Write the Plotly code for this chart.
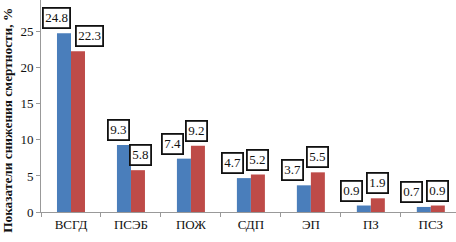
import plotly.graph_objects as go

# ---- data ----
categories = ["ВСГД", "ПСЭБ", "ПОЖ", "СДП", "ЭП", "ПЗ", "ПСЗ"]
series_blue = [24.8, 9.3, 7.4, 4.7, 3.7, 0.9, 0.7]
series_red = [22.3, 5.8, 9.2, 5.2, 5.5, 1.9, 0.9]
y_ticks = [0, 5, 10, 15, 20, 25]
y_title = "Показатели снижения смертности, %"

# ---- style ----
BLUE = "#4A7EBB"
RED = "#BE4B48"
FONT = "Liberation Serif"
# pixel nudges for the boxed value labels (blue, red) per category
label_dx_blue = [-14, -12, -18, -18, -18, -19, -19]
label_dx_red = [19, 10, 6, 7, 7, 7, 7]

fig = go.Figure()
fig.add_trace(go.Bar(x=categories, y=series_blue, marker=dict(color=BLUE, line=dict(width=0)),
                     showlegend=False, hoverinfo="skip"))
fig.add_trace(go.Bar(x=categories, y=series_red, marker=dict(color=RED, line=dict(width=0)),
                     showlegend=False, hoverinfo="skip"))

annotations = []
for i, c in enumerate(categories):
    for vals, dx in ((series_blue, label_dx_blue[i]), (series_red, label_dx_red[i])):
        annotations.append(dict(
            x=c, y=vals[i], xref="x", yref="y", text=f"{vals[i]:.1f}",
            showarrow=False, xanchor="center", yanchor="bottom",
            xshift=dx, yshift=4,
            font=dict(family=FONT, size=13, color="#111"),
            bgcolor="white", bordercolor="#111", borderwidth=1.8, borderpad=1.5,
        ))

annotations.append(dict(
    x=0, y=0.43, xref="paper", yref="paper", text=f"<b>{y_title}</b>",
    textangle=-90, showarrow=False, xanchor="center", yanchor="middle",
    xshift=-33, font=dict(family=FONT, size=13.3, color="#111"),
))

fig.update_layout(
    width=456, height=242,
    margin=dict(l=41, r=0, t=0, b=30, autoexpand=False),
    paper_bgcolor="white", plot_bgcolor="white",
    barmode="group", bargap=0.533, bargroupgap=0,
    annotations=annotations,
    xaxis=dict(
        type="category", range=[-0.5, 6.42], automargin=False,
        showline=True, linecolor="#999", linewidth=1,
        ticks="outside", tickson="boundaries", ticklen=4, tickcolor="#999",
        tickfont=dict(family=FONT, size=13, color="#111"),
        showgrid=False, zeroline=False,
    ),
    yaxis=dict(
        range=[0, 29.4], tickvals=y_ticks, automargin=False,
        showline=True, linecolor="#999", linewidth=1,
        ticks="outside", ticklen=4, tickcolor="#999",
        tickfont=dict(family=FONT, size=13, color="#111"),
        showgrid=False, zeroline=False,
    ),
)

fig.write_html(
    "out.html",
    config={"displayModeBar": False},
    post_script="document.body.style.margin='0';document.body.style.padding='0';"
                "document.documentElement.style.overflow='hidden';",
)
